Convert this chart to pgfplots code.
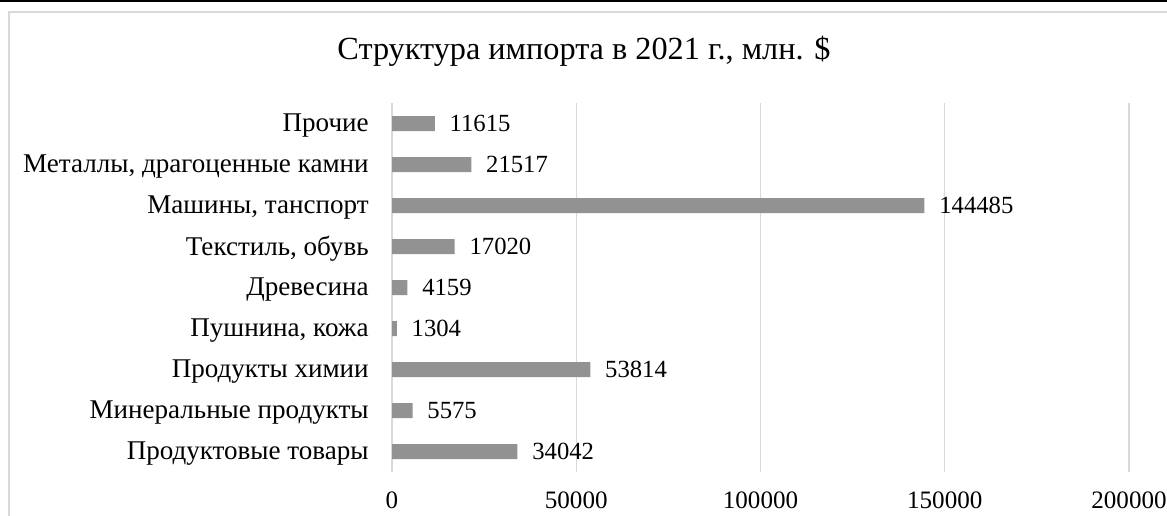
\documentclass[border=0pt]{standalone}
\usepackage{fontspec}
\setmainfont{Liberation Serif}
\usepackage{pgfplots}
\pgfplotsset{compat=1.18}
\definecolor{barc}{RGB}{146,146,146}
\definecolor{gridc}{RGB}{217,217,217}
\definecolor{framec}{RGB}{217,217,217}
\begin{document}
\begin{tikzpicture}[x=0.75pt,y=0.75pt]
\useasboundingbox (0,0) rectangle (1167,515);
\draw[black,line width=1.5pt] (0,514.2) -- (1167,514.2);
\draw[framec,line width=1.5pt] (1200,502.5) -- (8.5,502.5) -- (8.5,-20);
\node[font=\fontsize{24.2}{29}\selectfont] at (584,464) {Структура импорта в 2021 г., млн. \$};
\begin{axis}[
  at={(294pt,32.25pt)}, anchor=south west,
  width=552.75pt, height=276.75pt, scale only axis,
  xbar, bar width=11.25pt,
  xmin=0, xmax=200000, ymin=-0.5, ymax=8.5,
  ytick={0,...,8},
  yticklabels={Продуктовые товары, Минеральные продукты, Продукты химии, {Пушнина, кожа}, Древесина, {Текстиль, обувь}, {Машины, танспорт}, {Металлы, драгоценные камни}, Прочие},
  xtick={0,50000,100000,150000,200000},
  xticklabels={0,50000,100000,150000,200000},
  xmajorgrids, grid style={gridc, line width=1.1pt},
  axis line style={draw=none},
  major tick length=0pt, tick style={draw=none},
  xticklabel style={font=\fontsize{18.8}{22}\selectfont, anchor=center, yshift=-21.5pt},
  yticklabel style={font=\fontsize{20.3}{24}\selectfont, anchor=east, xshift=-14pt, yshift=-1.5pt},
  point meta=explicit symbolic,
  nodes near coords,
  every node near coord/.append style={font=\fontsize{18.5}{22}\selectfont, anchor=west, inner sep=0pt, xshift=11pt, black},
]
\addplot[fill=barc, draw=none] coordinates {
(34042,0) [34042] (5575,1) [5575] (53814,2) [53814] (1304,3) [1304] (4159,4) [4159] (17020,5) [17020] (144485,6) [144485] (21517,7) [21517] (11615,8) [11615]
};
\end{axis}
\end{tikzpicture}
\end{document}
